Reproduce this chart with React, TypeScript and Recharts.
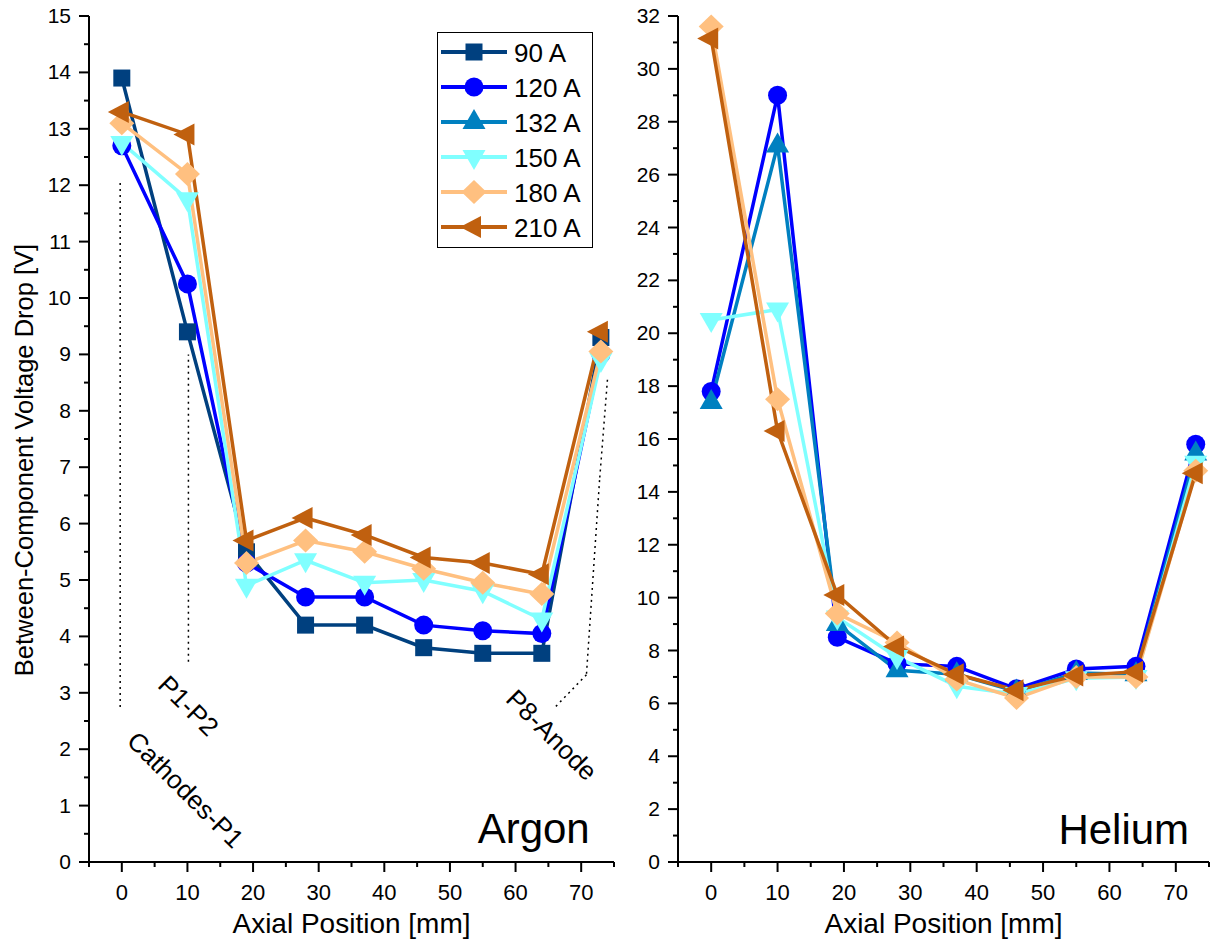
import React from "react";
import { LineChart, Line, XAxis, YAxis, ReferenceLine, ReferenceDot } from "recharts";

// axial positions of the probes [mm]
const positions = [0, 10, 19, 28, 37, 46, 55, 64, 73];

// Argon, between-component voltage drop [V]
const argon90 = [13.9, 9.4, 5.5, 4.2, 4.2, 3.8, 3.7, 3.7, 9.3];
const argon120 = [12.7, 10.25, 5.3, 4.7, 4.7, 4.2, 4.1, 4.05, 9.0];
const argon150 = [12.75, 11.75, 4.9, 5.35, 4.95, 5.0, 4.8, 4.3, 8.9];
const argon180 = [13.1, 12.2, 5.3, 5.7, 5.5, 5.2, 4.95, 4.75, 9.05];
const argon210 = [13.3, 12.9, 5.7, 6.1, 5.8, 5.4, 5.3, 5.1, 9.4];

// Helium, between-component voltage drop [V]
const helium120 = [17.8, 29.0, 8.5, 7.5, 7.4, 6.55, 7.3, 7.4, 15.8];
const helium132 = [17.4, 27.1, 9.0, 7.25, 7.1, 6.45, 7.15, 7.1, 15.45];
const helium150 = [20.5, 20.9, 9.25, 7.75, 6.65, 6.35, 6.95, 7.0, 15.1];
const helium180 = [31.6, 17.5, 9.4, 8.3, 6.9, 6.2, 7.0, 7.0, 14.8];
const helium210 = [31.15, 16.3, 10.1, 8.15, 7.1, 6.5, 7.05, 7.2, 14.7];

const xTicks = [-5, 0, 5, 10, 15, 20, 25, 30, 35, 40, 45, 50, 55, 60, 65, 70, 75];
const xLabels = [0, 10, 20, 30, 40, 50, 60, 70];
const argonYMajor = [0, 1, 2, 3, 4, 5, 6, 7, 8, 9, 10, 11, 12, 13, 14, 15];
const heliumYMajor = [0, 2, 4, 6, 8, 10, 12, 14, 16, 18, 20, 22, 24, 26, 28, 30, 32];

const FONT = '"Liberation Sans", Arial, Helvetica, sans-serif';

type Shape = "square" | "circle" | "up" | "down" | "diamond" | "left";

const SERIES: Record<string, { label: string; color: string; shape: Shape }> = {
  a90: { label: "90 A", color: "#00407F", shape: "square" },
  a120: { label: "120 A", color: "#0000FF", shape: "circle" },
  a132: { label: "132 A", color: "#0080C0", shape: "up" },
  a150: { label: "150 A", color: "#80FFFF", shape: "down" },
  a180: { label: "180 A", color: "#FFC080", shape: "diamond" },
  a210: { label: "210 A", color: "#C0600F", shape: "left" },
};
const legendKeys = ["a90", "a120", "a132", "a150", "a180", "a210"];

const argonRows = positions.map((x, i) => ({
  x,
  a90: argon90[i],
  a120: argon120[i],
  a150: argon150[i],
  a180: argon180[i],
  a210: argon210[i],
}));
const heliumRows = positions.map((x, i) => ({
  x,
  a120: helium120[i],
  a132: helium132[i],
  a150: helium150[i],
  a180: helium180[i],
  a210: helium210[i],
}));

function Marker({ cx, cy, shape, color }: { cx: number; cy: number; shape: Shape; color: string }) {
  if (cx == null || cy == null) return null;
  switch (shape) {
    case "square":
      return <rect x={cx - 8.5} y={cy - 8.5} width={17} height={17} fill={color} />;
    case "circle":
      return <circle cx={cx} cy={cy} r={9.5} fill={color} />;
    case "up":
      return <polygon points={`${cx},${cy - 13} ${cx + 11.5},${cy + 7} ${cx - 11.5},${cy + 7}`} fill={color} />;
    case "down":
      return <polygon points={`${cx},${cy + 13} ${cx + 11.5},${cy - 7} ${cx - 11.5},${cy - 7}`} fill={color} />;
    case "diamond":
      return <polygon points={`${cx},${cy - 12} ${cx + 12.5},${cy} ${cx},${cy + 12} ${cx - 12.5},${cy}`} fill={color} />;
    default:
      return <polygon points={`${cx - 14},${cy} ${cx + 7},${cy - 11} ${cx + 7},${cy + 11}`} fill={color} />;
  }
}

function BottomTick({ x, y, payload }: any) {
  const v = payload.value;
  const major = xLabels.includes(v);
  return (
    <g>
      <line x1={x} y1={y} x2={x} y2={y + (major ? 10 : 5)} stroke="#000" strokeWidth={2} />
      {major && (
        <text x={x} y={y + 38} textAnchor="middle" fontSize={22} fontFamily={FONT} fill="#000">
          {v}
        </text>
      )}
    </g>
  );
}

function TopTick({ x, y, payload }: any) {
  const major = xLabels.includes(payload.value);
  return <line x1={x} y1={y} x2={x} y2={y + (major ? 9 : 5)} stroke="#000" strokeWidth={2} />;
}

function LeftTick({ x, y, payload, majors }: any) {
  const v = payload.value;
  const major = majors.includes(v);
  return (
    <g>
      <line x1={x} y1={y} x2={x - (major ? 10 : 5)} y2={y} stroke="#000" strokeWidth={2} />
      {major && (
        <text x={x - 18} y={y + 7} textAnchor="end" fontSize={21} fontFamily={FONT} fill="#000">
          {v}
        </text>
      )}
    </g>
  );
}

function RightTick({ x, y, payload, majors }: any) {
  const major = majors.includes(payload.value);
  return <line x1={x} y1={y} x2={x - (major ? 9 : 5)} y2={y} stroke="#000" strokeWidth={2} />;
}

function withMinor(majors: number[]) {
  const out: number[] = [];
  majors.forEach((m, i) => {
    out.push(m);
    if (i < majors.length - 1) out.push((m + majors[i + 1]) / 2);
  });
  return out;
}

function XTitle({ viewBox }: any) {
  return (
    <text x={viewBox.x + viewBox.width / 2} y={viewBox.y + 71} textAnchor="middle" fontSize={28} fontFamily={FONT} fill="#000">
      Axial Position [mm]
    </text>
  );
}

function YTitle({ viewBox }: any) {
  const cx = viewBox.x + 33;
  const cy = viewBox.y + viewBox.height / 2 + 21;
  return (
    <text x={cx} y={cy} transform={`rotate(-90 ${cx} ${cy})`} textAnchor="middle" fontSize={25.5} fontFamily={FONT} fill="#000">
      Between-Component Voltage Drop [V]
    </text>
  );
}

function rotated(text: string, size: number) {
  return {
    content: ({ viewBox }: any) => {
      const cx = viewBox.x + viewBox.width / 2;
      const cy = viewBox.y + viewBox.height / 2;
      return (
        <text x={cx} y={cy} transform={`rotate(45 ${cx} ${cy})`} textAnchor="middle" dominantBaseline="central" fontSize={size} fontFamily={FONT} fill="#000">
          {text}
        </text>
      );
    },
  };
}

function gasLabel(text: string) {
  return {
    content: ({ viewBox }: any) => (
      <text x={viewBox.x + viewBox.width / 2} y={viewBox.y + viewBox.height / 2} textAnchor="end" fontSize={42} fontFamily={FONT} fill="#000">
        {text}
      </text>
    ),
  };
}

const dotted = { stroke: "#000", strokeWidth: 1.5, strokeDasharray: "2 4", ifOverflow: "visible" as const };

interface PanelProps {
  rows: any[];
  keys: string[];
  width: number;
  yMax: number;
  yMajor: number[];
  yAxisWidth: number;
  marginRight: number;
  showYTitle: boolean;
  gas: string;
  gasPos: { x: number; y: number };
  children?: React.ReactNode;
}

function Panel({ rows, keys, width, yMax, yMajor, yAxisWidth, marginRight, showYTitle, gas, gasPos, children }: PanelProps) {
  const yTicks = withMinor(yMajor);
  return (
    <LineChart width={width} height={942} data={rows} margin={{ top: 16, right: marginRight, bottom: 0, left: 0 }}>
      <XAxis
        xAxisId="b"
        dataKey="x"
        type="number"
        domain={[-5, 75]}
        ticks={xTicks}
        interval={0}
        height={80}
        tickSize={0}
        tickMargin={0}
        tickLine={false}
        axisLine={{ stroke: "#000", strokeWidth: 2 }}
        tick={(p: any) => <BottomTick {...p} />}
        label={{ content: (p: any) => <XTitle {...p} /> }}
      />
      <XAxis
        xAxisId="t"
        orientation="top"
        type="number"
        domain={[-5, 75]}
        ticks={xTicks}
        interval={0}
        height={0}
        tickSize={0}
        tickMargin={0}
        tickLine={false}
        axisLine={{ stroke: "#000", strokeWidth: 2 }}
        tick={(p: any) => <TopTick {...p} />}
      />
      <YAxis
        yAxisId="l"
        type="number"
        domain={[0, yMax]}
        ticks={yTicks}
        interval={0}
        width={yAxisWidth}
        tickSize={0}
        tickMargin={0}
        tickLine={false}
        axisLine={{ stroke: "#000", strokeWidth: 2 }}
        tick={(p: any) => <LeftTick {...p} majors={yMajor} />}
        label={showYTitle ? { content: (p: any) => <YTitle {...p} /> } : undefined}
      />
      <YAxis
        yAxisId="r"
        orientation="right"
        type="number"
        domain={[0, yMax]}
        ticks={yTicks}
        interval={0}
        width={0}
        tickSize={0}
        tickMargin={0}
        tickLine={false}
        axisLine={{ stroke: "#000", strokeWidth: 2 }}
        tick={(p: any) => <RightTick {...p} majors={yMajor} />}
      />
      {children}
      {keys.map((k) => (
        <Line
          key={k}
          xAxisId="b"
          yAxisId="l"
          dataKey={k}
          stroke={SERIES[k].color}
          strokeWidth={3.5}
          isAnimationActive={false}
          activeDot={false}
          dot={(p: any) => <Marker key={`${k}-${p.index}`} cx={p.cx} cy={p.cy} shape={SERIES[k].shape} color={SERIES[k].color} />}
        />
      ))}
      <ReferenceDot xAxisId="b" yAxisId="l" x={gasPos.x} y={gasPos.y} r={1} fill="none" stroke="none" ifOverflow="visible" label={gasLabel(gas)} />
    </LineChart>
  );
}

function LegendBox() {
  return (
    <div style={{ position: "absolute", left: 437, top: 32, width: 156, height: 216, border: "1.5px solid #000", boxSizing: "border-box", background: "#fff" }}>
      <svg width={153} height={213}>
        {legendKeys.map((k, i) => {
          const cy = 19 + i * 35;
          const s = SERIES[k];
          return (
            <g key={k}>
              <line x1={3} y1={cy} x2={69} y2={cy} stroke={s.color} strokeWidth={4} />
              <Marker cx={36} cy={cy} shape={s.shape} color={s.color} />
              <text x={76} y={cy + 9.5} fontSize={26} fontFamily={FONT} fill="#000">
                {s.label}
              </text>
            </g>
          );
        })}
      </svg>
    </div>
  );
}

export default function App() {
  return (
    <div style={{ position: "absolute", left: 0, top: 0, width: 1219, height: 942, background: "#fff" }}>
      <div style={{ position: "absolute", left: 0, top: 0 }}>
        <Panel
          rows={argonRows}
          keys={["a90", "a120", "a150", "a180", "a210"]}
          width={620}
          yMax={15}
          yMajor={argonYMajor}
          yAxisWidth={89}
          marginRight={6}
          showYTitle
          gas="Argon"
          gasPos={{ x: 71.3, y: 0.34 }}
        >
          <ReferenceLine xAxisId="b" yAxisId="l" segment={[{ x: -0.25, y: 2.75 }, { x: -0.25, y: 12.05 }]} {...dotted} />
          <ReferenceLine xAxisId="b" yAxisId="l" segment={[{ x: 10.15, y: 3.55 }, { x: 10.15, y: 9.0 }]} {...dotted} />
          <ReferenceLine xAxisId="b" yAxisId="l" segment={[{ x: 74.0, y: 8.55 }, { x: 72.8, y: 6.77 }]} {...dotted} />
          <ReferenceLine xAxisId="b" yAxisId="l" segment={[{ x: 72.8, y: 6.77 }, { x: 70.8, y: 3.32 }]} {...dotted} />
          <ReferenceLine xAxisId="b" yAxisId="l" segment={[{ x: 70.8, y: 3.32 }, { x: 65.9, y: 2.73 }]} {...dotted} />
          <ReferenceDot xAxisId="b" yAxisId="l" x={9.7} y={1.28} r={1} fill="none" stroke="none" ifOverflow="visible" label={rotated("Cathodes-P1", 26)} />
          <ReferenceDot xAxisId="b" yAxisId="l" x={10.16} y={2.77} r={1} fill="none" stroke="none" ifOverflow="visible" label={rotated("P1-P2", 26)} />
          <ReferenceDot xAxisId="b" yAxisId="l" x={65.5} y={2.25} r={1} fill="none" stroke="none" ifOverflow="visible" label={rotated("P8-Anode", 26)} />
        </Panel>
      </div>
      <div style={{ position: "absolute", left: 620, top: 0 }}>
        <Panel
          rows={heliumRows}
          keys={["a120", "a132", "a150", "a180", "a210"]}
          width={599}
          yMax={32}
          yMajor={heliumYMajor}
          yAxisWidth={58}
          marginRight={10}
          showYTitle={false}
          gas="Helium"
          gasPos={{ x: 72.0, y: 0.68 }}
        />
      </div>
      <LegendBox />
    </div>
  );
}
